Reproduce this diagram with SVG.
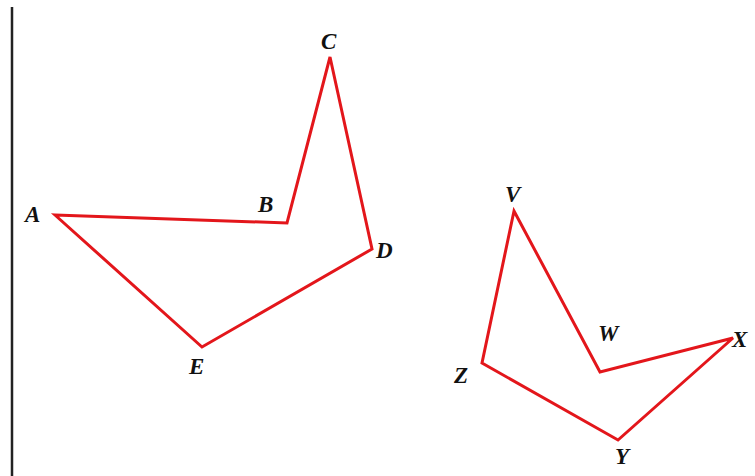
<svg xmlns="http://www.w3.org/2000/svg" width="755" height="476" viewBox="0 0 755 476">
<style>
.poly{fill:none;stroke:#e3161b;stroke-width:3;stroke-linejoin:miter}
.lbl{font-family:"Liberation Serif","Times New Roman",serif;font-size:23px;font-weight:bold;font-style:italic;fill:#111}
</style>
<rect width="755" height="476" fill="#fff"/>
<line x1="12" y1="7" x2="12" y2="476" stroke="#222" stroke-width="2.5"/>
<g id="connectors">
<polygon id="ABCDE" class="poly" points="55,215 287,223 330,57 372,249 202,347"/>
<polygon id="VWXYZ" class="poly" points="514,211 600,372 733,338 618,440 482,363"/>
</g>
<g id="A"><text class="lbl" x="25" y="222">A</text></g>
<g id="B"><text class="lbl" x="258" y="212">B</text></g>
<g id="C"><text class="lbl" x="321" y="49">C</text></g>
<g id="D"><text class="lbl" x="376" y="258">D</text></g>
<g id="E"><text class="lbl" x="189" y="374">E</text></g>
<g id="V"><text class="lbl" x="505" y="202">V</text></g>
<g id="W"><text class="lbl" x="598" y="341">W</text></g>
<g id="X"><text class="lbl" x="732" y="347">X</text></g>
<g id="Y"><text class="lbl" x="615" y="464">Y</text></g>
<g id="Z"><text class="lbl" x="454" y="383">Z</text></g>
</svg>
